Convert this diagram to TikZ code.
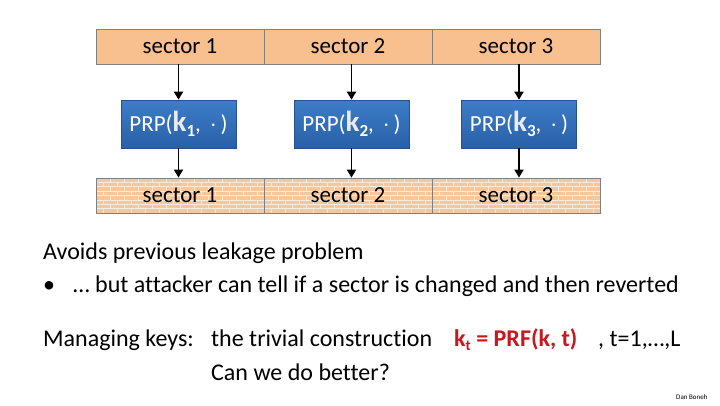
\documentclass[tikz,border=0pt]{standalone}
\usepackage{fontspec}
\setmainfont{Carlito}[Ligatures=NoCommon]
\usetikzlibrary{arrows.meta}
\definecolor{peach}{RGB}{249,192,143}
\definecolor{brick}{RGB}{244,200,156}
\definecolor{mortar}{RGB}{252,234,214}
\definecolor{barline}{RGB}{128,128,128}
\definecolor{bluetop}{RGB}{62,125,200}
\definecolor{bluebot}{RGB}{40,96,168}
\definecolor{blueedge}{RGB}{40,80,140}
\definecolor{keyred}{RGB}{200,24,30}
\definecolor{kwhite}{RGB}{235,235,240}
\tikzset{
  sect/.style={draw=barline, line width=0.8pt, minimum width=168pt, minimum height=35pt, inner sep=0pt, font=\fontsize{23}{23}\selectfont, text=black},
  topsect/.style={sect, fill=peach},
  botsect/.style={sect},
  prp/.style={draw=blueedge, line width=0.6pt, top color=bluetop, bottom color=bluebot, minimum height=48pt, minimum width=115pt, inner xsep=3pt, text=white, font=\fontsize{23}{23}\selectfont},
  conn/.style={-{Triangle[width=9pt,length=8pt]}, line width=1.8pt, black},
  body/.style={anchor=base west, inner sep=0pt, font=\fontsize{24}{24}\selectfont, text=black}
}
\newcommand{\prpk}[1]{PRP({\bfseries\fontsize{29}{29}\selectfont\color{kwhite}k}\raisebox{-5pt}{\bfseries\fontsize{17}{17}\selectfont #1}, \,$\cdot$\,)}
\begin{document}
\begin{tikzpicture}[x=1pt,y=-1pt]
\useasboundingbox (0,0) rectangle (720,405);
\fill[white] (0,0) rectangle (720,405);
% top sectors
\node[topsect] (t1) at (180,46.5) {sector 1};
\node[topsect] (t2) at (348,46.5) {sector 2};
\node[topsect] (t3) at (516,46.5) {sector 3};
% brick background for bottom bar
\begin{scope}
\clip (96,178) rectangle (600,213);
\fill[brick] (96,178) rectangle (600,213);
\foreach \r in {0,...,7} {
  \pgfmathsetmacro{\yy}{178+\r*4.4}
  \draw[mortar, line width=0.9pt] (96,\yy) -- (600,\yy);
  \pgfmathsetmacro{\off}{mod(\r,2)*7}
  \foreach \c in {0,...,36} {
    \pgfmathsetmacro{\xx}{96+\off+\c*14}
    \draw[mortar, line width=0.9pt] (\xx,\yy) -- (\xx,\yy+4.4);
  }
}
\end{scope}
\node[botsect] (b1) at (180,195.5) {sector 1};
\node[botsect] (b2) at (348,195.5) {sector 2};
\node[botsect] (b3) at (516,195.5) {sector 3};
% PRP boxes
\node[prp] (p1) at (178.5,124) {\prpk{1}};
\node[prp] (p2) at (351.5,124) {\prpk{2}};
\node[prp] (p3) at (519,124) {\prpk{3}};
% arrows
\foreach \i in {1,2,3} {
  \draw[conn] (p\i.north |- t\i.south) -- (p\i.north);
  \draw[conn] (p\i.south) -- (p\i.south |- b\i.north);
}
% text
\node[body] (l1) at (43,259) {Avoids previous leakage problem};
\node[body] (bul) at (43,292) {•};
\node[body] (l2) at (73,292) {… but attacker can tell if a sector is changed and then reverted};
\node[body] (mk) at (43,346) {Managing keys:};
\node[body] (tc) at (211,346) {the trivial construction};
\node[body, text=keyred, font=\fontsize{24}{24}\selectfont\bfseries] (kt) at (454,346) {k\raisebox{-4pt}{\fontsize{15}{15}\selectfont t} = PRF(k, t)};
\node[body] (tl) at (598,346) {, t=1,…,L};
\node[body] (cw) at (211,380) {Can we do better?};
\node[body, font=\fontsize{7}{7}\selectfont] (db) at (676,399) {Dan Boneh};
\end{tikzpicture}
\end{document}
